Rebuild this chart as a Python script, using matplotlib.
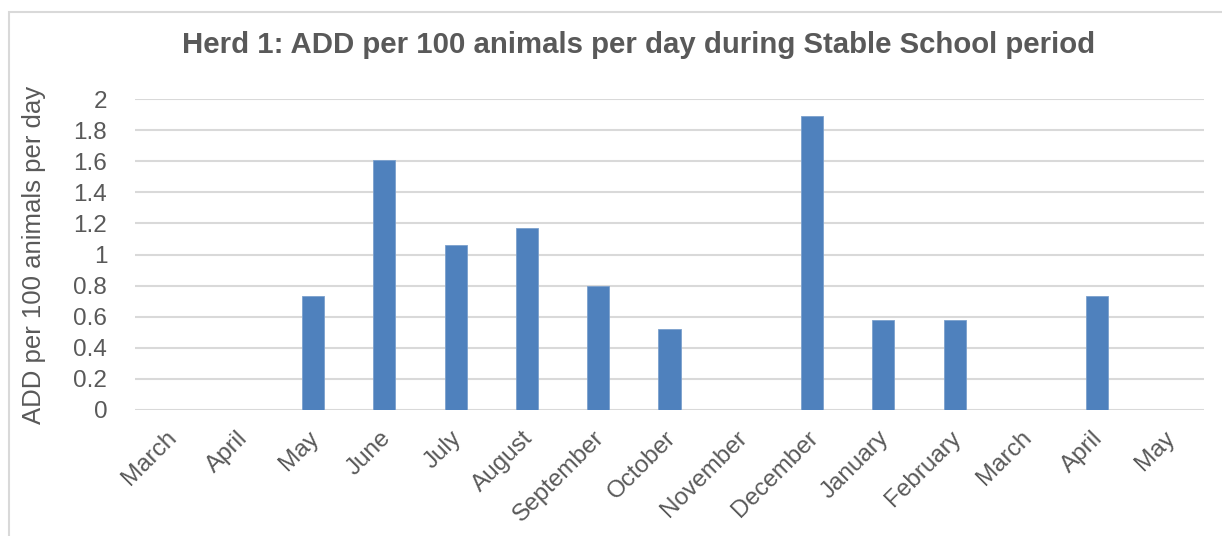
import matplotlib
matplotlib.use("Agg")
import matplotlib.pyplot as plt
import matplotlib.transforms as mtransforms
from matplotlib.patches import Rectangle

months = ["March", "April", "May", "June", "July", "August", "September",
          "October", "November", "December", "January", "February",
          "March", "April", "May"]
add_values = [0, 0, 0.73, 1.61, 1.06, 1.17, 0.80, 0.52, 0, 1.89,
              0.58, 0.58, 0, 0.73, 0]
y_ticks = [0, 0.2, 0.4, 0.6, 0.8, 1, 1.2, 1.4, 1.6, 1.8, 2]
y_tick_labels = ["0", "0.2", "0.4", "0.6", "0.8", "1", "1.2", "1.4",
                 "1.6", "1.8", "2"]

plt.rcParams["font.family"] = ["Liberation Sans", "DejaVu Sans"]
text_color = "#595959"
bar_color = "#4F81BD"

W, H = 1222, 536
fig = plt.figure(figsize=(W / 100, H / 100), dpi=100)

# chart frame
fig.patches.append(Rectangle((9 / W, -0.01), 1.2, 1 - 12 / H + 0.01,
                             transform=fig.transFigure, fill=False,
                             edgecolor="#D9D9D9", linewidth=1.5))

left, right, bottom, top = 135, 1204, 410, 99
ax = fig.add_axes([left / W, 1 - bottom / H, (right - left) / W,
                   (bottom - top) / H])

x = range(len(months))
ax.bar(x, add_values, width=0.31, color=bar_color, edgecolor="#7BA0CD",
       linewidth=0.6, zorder=3)

ax.set_xlim(-0.5, len(months) - 0.5)
ax.set_ylim(0, 2)
ax.set_yticks(y_ticks)
ax.set_yticklabels(y_tick_labels)
ax.grid(axis="y", color="#D9D9D9", linewidth=1.5, zorder=0)
ax.set_xticks(list(x))
ax.set_xticklabels(months, rotation=45, ha="right", rotation_mode="anchor")

for s in ax.spines.values():
    s.set_visible(False)
ax.tick_params(axis="both", length=0, labelsize=17.5, labelcolor=text_color)
ax.tick_params(axis="y", pad=20)
ax.tick_params(axis="x", pad=10)

# nudge the slanted month labels slightly left and down
shift = mtransforms.ScaledTranslation(-5 / 100, -3 / 100, fig.dpi_scale_trans)
for lbl in ax.get_xticklabels():
    lbl.set_transform(lbl.get_transform() + shift)

ax.set_ylabel("ADD per 100 animals per day", fontsize=18.5, color=text_color)
ax.yaxis.set_label_coords(-(left - 46) / (right - left), 0.5)

fig.text(639 / W, 1 - 45 / H,
         "Herd 1: ADD per 100 animals per day during Stable School period",
         ha="center", va="center", fontsize=21.2, fontweight="bold",
         color=text_color)

fig.savefig("out.png", dpi=100)
